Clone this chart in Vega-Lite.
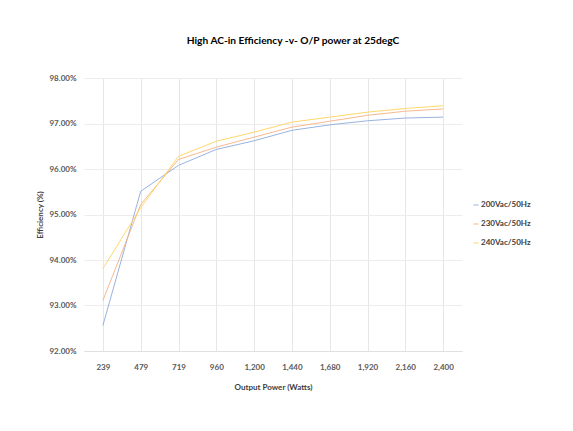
{
  "$schema": "https://vega.github.io/schema/vega-lite/v6.json",
  "width": 378,
  "height": 273,
  "padding": {"left": 36, "top": 35, "right": 10, "bottom": 10},
  "background": "white",
  "title": {
    "text": "High AC-in Efficiency -v- O/P power at 25degC",
    "font": "Lato",
    "fontSize": 10.2,
    "fontWeight": "bold",
    "color": "#000000",
    "anchor": "middle",
    "frame": "bounds",
    "dx": 9,
    "offset": 28
  },
  "data": {
    "values": [
      {"power": "239", "order": 1, "series": "200Vac/50Hz", "eff": 0.9256},
      {"power": "479", "order": 2, "series": "200Vac/50Hz", "eff": 0.9551},
      {"power": "719", "order": 3, "series": "200Vac/50Hz", "eff": 0.9608},
      {"power": "960", "order": 4, "series": "200Vac/50Hz", "eff": 0.9643},
      {"power": "1,200", "order": 5, "series": "200Vac/50Hz", "eff": 0.9662},
      {"power": "1,440", "order": 6, "series": "200Vac/50Hz", "eff": 0.9685},
      {"power": "1,680", "order": 7, "series": "200Vac/50Hz", "eff": 0.9697},
      {"power": "1,920", "order": 8, "series": "200Vac/50Hz", "eff": 0.9706},
      {"power": "2,160", "order": 9, "series": "200Vac/50Hz", "eff": 0.9712},
      {"power": "2,400", "order": 10, "series": "200Vac/50Hz", "eff": 0.9714},
      {"power": "239", "order": 1, "series": "230Vac/50Hz", "eff": 0.9311},
      {"power": "479", "order": 2, "series": "230Vac/50Hz", "eff": 0.9522},
      {"power": "719", "order": 3, "series": "230Vac/50Hz", "eff": 0.9621},
      {"power": "960", "order": 4, "series": "230Vac/50Hz", "eff": 0.9648},
      {"power": "1,200", "order": 5, "series": "230Vac/50Hz", "eff": 0.9670},
      {"power": "1,440", "order": 6, "series": "230Vac/50Hz", "eff": 0.9692},
      {"power": "1,680", "order": 7, "series": "230Vac/50Hz", "eff": 0.9705},
      {"power": "1,920", "order": 8, "series": "230Vac/50Hz", "eff": 0.9718},
      {"power": "2,160", "order": 9, "series": "230Vac/50Hz", "eff": 0.9727},
      {"power": "2,400", "order": 10, "series": "230Vac/50Hz", "eff": 0.9732},
      {"power": "239", "order": 1, "series": "240Vac/50Hz", "eff": 0.9381},
      {"power": "479", "order": 2, "series": "240Vac/50Hz", "eff": 0.9515},
      {"power": "719", "order": 3, "series": "240Vac/50Hz", "eff": 0.9628},
      {"power": "960", "order": 4, "series": "240Vac/50Hz", "eff": 0.9661},
      {"power": "1,200", "order": 5, "series": "240Vac/50Hz", "eff": 0.9681},
      {"power": "1,440", "order": 6, "series": "240Vac/50Hz", "eff": 0.9703},
      {"power": "1,680", "order": 7, "series": "240Vac/50Hz", "eff": 0.9714},
      {"power": "1,920", "order": 8, "series": "240Vac/50Hz", "eff": 0.9725},
      {"power": "2,160", "order": 9, "series": "240Vac/50Hz", "eff": 0.9733},
      {"power": "2,400", "order": 10, "series": "240Vac/50Hz", "eff": 0.9739}
    ]
  },
  "mark": {"type": "line", "strokeWidth": 1, "opacity": 0.9},
  "encoding": {
    "x": {
      "field": "power",
      "type": "ordinal",
      "sort": {"field": "order"},
      "scale": {"type": "point", "padding": 0.5},
      "axis": {
        "title": "Output Power (Watts)",
        "labelAngle": 0,
        "grid": true,
        "gridColor": "#e6e6e6",
        "ticks": false,
        "domain": true,
        "domainColor": "#e0e0e0",
        "labelPadding": 12,
        "titlePadding": 12
      }
    },
    "y": {
      "field": "eff",
      "type": "quantitative",
      "scale": {"domain": [0.92, 0.98], "nice": false, "zero": false},
      "axis": {
        "title": "Efficiency (%)",
        "format": ".2%",
        "values": [0.92, 0.93, 0.94, 0.95, 0.96, 0.97, 0.98],
        "grid": true,
        "gridColor": "#ececec",
        "ticks": false,
        "domain": false,
        "labelPadding": 8,
        "titlePadding": 4
      }
    },
    "color": {
      "field": "series",
      "type": "nominal",
      "scale": {
        "domain": ["200Vac/50Hz", "230Vac/50Hz", "240Vac/50Hz"],
        "range": ["#8FAADC", "#F4B183", "#FFD45C"]
      },
      "legend": {
        "title": null,
        "symbolType": "stroke",
        "symbolSize": 25,
        "symbolStrokeWidth": 1,
        "rowPadding": 11,
        "labelOffset": 1,
        "orient": "none",
        "legendX": 388,
        "legendY": 123
      }
    }
  },
  "config": {
    "font": "Lato",
    "view": {"stroke": null},
    "axis": {
      "labelFont": "Lato",
      "labelFontSize": 8,
      "labelFontWeight": "bold",
      "labelColor": "#595959",
      "titleFont": "Lato",
      "titleFontSize": 8,
      "titleFontWeight": "bold",
      "titleColor": "#404040"
    },
    "legend": {
      "labelFont": "Lato",
      "labelFontSize": 8,
      "labelFontWeight": "bold",
      "labelColor": "#404040"
    }
  }
}
